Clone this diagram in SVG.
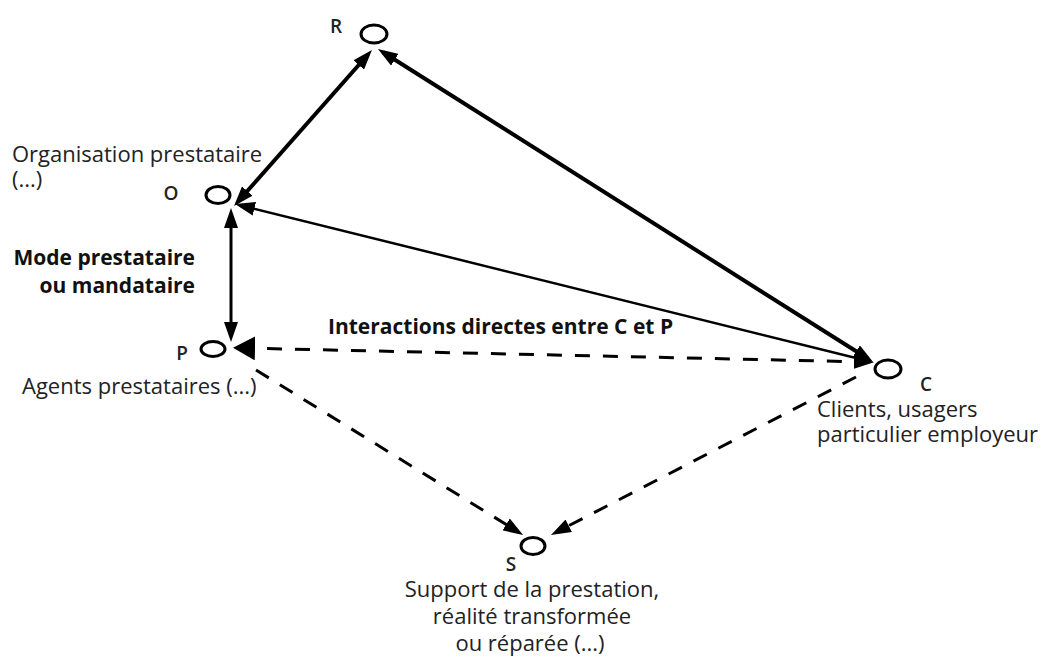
<svg xmlns="http://www.w3.org/2000/svg" width="1045" height="660" viewBox="0 0 1045 660">
<style>
.node{fill:none;stroke:#000;stroke-width:3}
.t{font-family:"Open Sans","Liberation Sans",sans-serif;font-size:22px;fill:#222}
.b{font-family:"Open Sans","Liberation Sans",sans-serif;font-size:21px;font-weight:bold;fill:#111}
.l{font-family:"Open Sans","Liberation Sans",sans-serif;font-size:19px;font-weight:600;fill:#222}
.thick{fill:none;stroke:#000;stroke-width:4}
.med{fill:none;stroke:#000;stroke-width:3}
.thin{fill:none;stroke:#000;stroke-width:2.5}
.dash{fill:none;stroke:#000;stroke-width:3;stroke-dasharray:15 13}
</style>
<defs>
<marker id="ah" viewBox="0 0 20 14" markerWidth="20" markerHeight="14" refX="14" refY="7" orient="auto-start-reverse" markerUnits="userSpaceOnUse"><path d="M0,0 L20,7 L0,14 z" fill="#000"/></marker>
<marker id="ahb" viewBox="0 0 22 24" markerWidth="22" markerHeight="24" refX="16" refY="12" orient="auto-start-reverse" markerUnits="userSpaceOnUse"><path d="M0,0 L22,12 L0,24 z" fill="#000"/></marker>
</defs>
<g id="connectors">
<line class="thick" x1="368" y1="54.5" x2="238" y2="201.5" marker-start="url(#ah)" marker-end="url(#ah)"/>
<line class="thick" x1="383" y1="52.2" x2="868" y2="358.8" marker-start="url(#ah)" marker-end="url(#ah)"/>
<line class="thin" x1="868" y1="361" x2="240.8" y2="205.4" marker-end="url(#ah)"/>
<line class="med" x1="231" y1="214" x2="231" y2="336" marker-start="url(#ah)" marker-end="url(#ah)"/>
<line class="dash" x1="239" y1="348" x2="868" y2="362" marker-start="url(#ahb)" marker-end="url(#ah)"/>
<line class="dash" x1="256" y1="370" x2="518" y2="531.8" marker-end="url(#ah)"/>
<line class="dash" x1="856" y1="377" x2="556.3" y2="532.2" marker-end="url(#ah)"/>
</g>
<g id="node-R">
<ellipse class="node" cx="374" cy="34" rx="13" ry="9"/>
<text class="l" x="336" y="33" text-anchor="middle">R</text>
</g>
<g id="node-O">
<ellipse class="node" cx="218" cy="195" rx="12" ry="8.5"/>
<text class="l" x="171" y="200" text-anchor="middle">O</text>
<text class="t" x="12" y="162">Organisation prestataire</text>
<text class="t" x="12" y="187">(...)</text>
</g>
<g id="node-P">
<ellipse class="node" cx="213" cy="349" rx="12" ry="7.5"/>
<text class="l" x="182" y="360" text-anchor="middle">P</text>
<text class="t" x="22" y="394">Agents prestataires (...)</text>
</g>
<g id="node-C">
<ellipse class="node" cx="888" cy="369" rx="13" ry="9"/>
<text class="l" x="926" y="391" text-anchor="middle">C</text>
<text class="t" x="817" y="417">Clients, usagers</text>
<text class="t" x="817" y="442">particulier employeur</text>
</g>
<g id="node-S">
<ellipse class="node" cx="533" cy="546" rx="12" ry="8.5"/>
<text class="l" x="511" y="571" text-anchor="middle">S</text>
<text class="t" x="532" y="597" text-anchor="middle">Support de la prestation,</text>
<text class="t" x="532" y="624" text-anchor="middle">réalité transformée</text>
<text class="t" x="530" y="651" text-anchor="middle">ou réparée (...)</text>
</g>
<g id="labels">
<text class="b" x="195" y="265" text-anchor="end">Mode prestataire</text>
<text class="b" x="195" y="293" text-anchor="end">ou mandataire</text>
<text class="b" x="328" y="334">Interactions directes entre C et P</text>
</g>
</svg>
